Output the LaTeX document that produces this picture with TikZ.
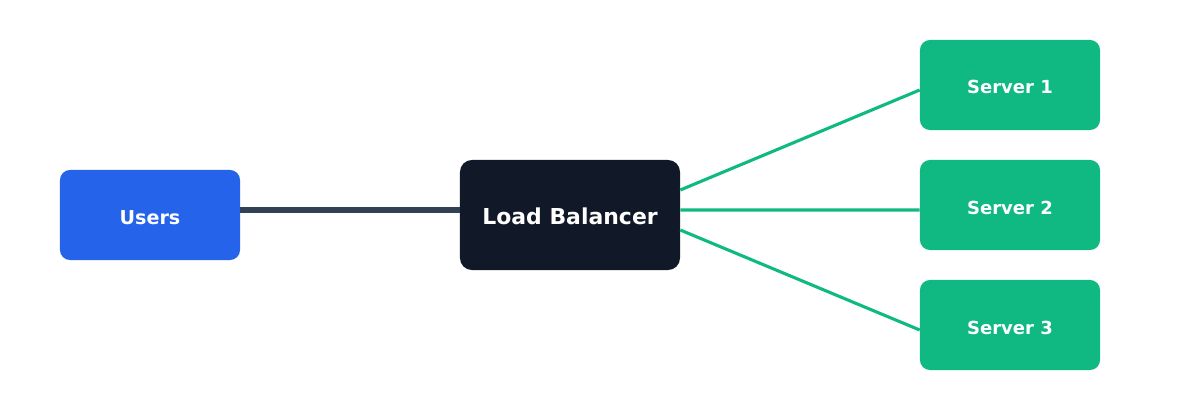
\documentclass[tikz,border=0pt]{standalone}
\usepackage{fontspec}
\setmainfont{DejaVu Sans}
\usetikzlibrary{calc}
\definecolor{ublue}{HTML}{2563EB}
\definecolor{lbdark}{HTML}{111827}
\definecolor{sgreen}{HTML}{10B981}
\definecolor{slate}{HTML}{334155}
\tikzset{
  box/.style={rectangle, rounded corners=0.25cm, text=white, font=\bfseries, inner sep=0pt, text height=12.8pt, text depth=0pt},
  userbox/.style={box, fill=ublue, minimum width=4.5cm, minimum height=2.25cm, font=\bfseries\fontsize{13.6}{16}\selectfont},
  lbbox/.style={box, fill=lbdark, rounded corners=0.3cm, minimum width=5.5cm, minimum height=2.75cm, font=\bfseries\fontsize{15.6}{18}\selectfont},
  srvbox/.style={box, fill=sgreen, minimum width=4.5cm, minimum height=2.25cm, font=\bfseries\fontsize{12.8}{15}\selectfont},
  darkline/.style={draw=slate, line width=3.9pt},
  greenline/.style={draw=sgreen, line width=2.2pt},
}
\begin{document}
\begin{tikzpicture}[x=0.025cm, y=-0.025cm]
\useasboundingbox (0,0) rectangle (1200,400);
\node[userbox] (users) at (150,215) {Users};
\node[lbbox] (lb) at (570,215) {Load Balancer};
\node[srvbox] (s1) at (1010,85) {Server 1};
\node[srvbox] (s2) at (1010,205) {Server 2};
\node[srvbox] (s3) at (1010,325) {Server 3};
\draw[darkline] ([yshift=0.125cm]users.east) -- ([yshift=0.125cm]lb.west);
\draw[greenline] ([yshift=0.625cm]lb.east) -- ([yshift=-0.125cm]s1.west);
\draw[greenline] ([yshift=0.125cm]lb.east) -- ([yshift=-0.125cm]s2.west);
\draw[greenline] ([yshift=-0.375cm]lb.east) -- ([yshift=-0.125cm]s3.west);
\end{tikzpicture}
\end{document}
